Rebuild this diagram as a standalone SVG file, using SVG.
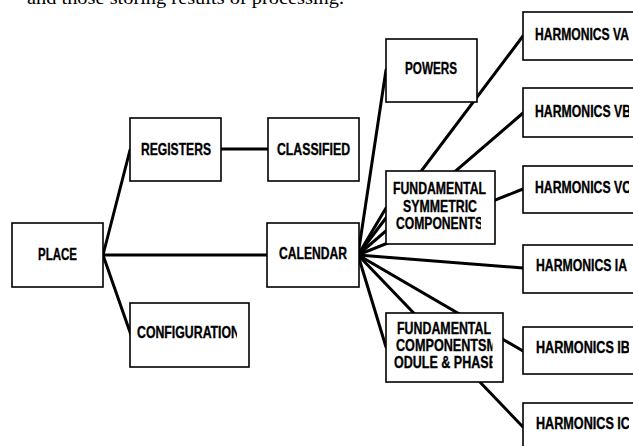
<svg xmlns="http://www.w3.org/2000/svg" width="633" height="446" viewBox="0 0 633 446">
<style>
.box{fill:#fff;stroke:#000;stroke-width:1.6}
.lbl{font-family:"Liberation Sans",Arial,sans-serif;font-weight:bold;font-size:16.5px;fill:#000;stroke:#000;stroke-width:0.35}
.con line{stroke:#000;stroke-width:3;stroke-linecap:round}
.cap{font-family:"Liberation Serif","Times New Roman",serif;font-size:18px;fill:#000}
</style>
<defs>
<clipPath id="cCfg"><rect x="130" y="300" width="107" height="70"/></clipPath>
<clipPath id="cFS"><rect x="386" y="171" width="95" height="73"/></clipPath>
<clipPath id="cFC"><rect x="386" y="313" width="106.5" height="69"/></clipPath>
<clipPath id="cH"><rect x="523" y="0" width="106" height="446"/></clipPath>
</defs>
<rect width="633" height="446" fill="#fff"/>
<text class="cap" x="27" y="4" textLength="317" lengthAdjust="spacingAndGlyphs">and those storing results of processing.</text>
<g id="connectors" class="con">
<line x1="103" y1="255" x2="130" y2="150"/>
<line x1="103" y1="255" x2="267" y2="255"/>
<line x1="103" y1="255" x2="131" y2="335"/>
<line x1="221" y1="149" x2="268" y2="149"/>
<line x1="358" y1="255" x2="386" y2="70"/>
<line x1="358" y1="255" x2="386" y2="208"/>
<line x1="358" y1="255" x2="386" y2="347"/>
<line x1="358" y1="255" x2="523" y2="36"/>
<line x1="358" y1="255" x2="523" y2="113"/>
<line x1="358" y1="255" x2="523" y2="189"/>
<line x1="358" y1="255" x2="523" y2="268"/>
<line x1="358" y1="255" x2="523" y2="351"/>
<line x1="358" y1="255" x2="523" y2="427"/>
</g>
<g id="place"><rect class="box" x="12" y="223" width="91" height="64"/><text class="lbl" x="38" y="260" textLength="39" lengthAdjust="spacingAndGlyphs">PLACE</text></g>
<g id="registers"><rect class="box" x="130" y="118" width="91" height="63"/><text class="lbl" x="141" y="155" textLength="70" lengthAdjust="spacingAndGlyphs">REGISTERS</text></g>
<g id="classified"><rect class="box" x="268" y="118" width="91" height="63"/><text class="lbl" x="277" y="155" textLength="73" lengthAdjust="spacingAndGlyphs">CLASSIFIED</text></g>
<g id="configuration"><rect class="box" x="130" y="303" width="119" height="64"/><text class="lbl" x="137" y="338" textLength="103" lengthAdjust="spacingAndGlyphs" clip-path="url(#cCfg)">CONFIGURATION</text></g>
<g id="calendar"><rect class="box" x="267" y="223" width="92" height="64"/><text class="lbl" x="279" y="259" textLength="68" lengthAdjust="spacingAndGlyphs">CALENDAR</text></g>
<g id="powers"><rect class="box" x="386" y="39" width="91" height="63"/><text class="lbl" x="405" y="74" textLength="52" lengthAdjust="spacingAndGlyphs">POWERS</text></g>
<g id="fund-symmetric"><rect class="box" x="386" y="171" width="109" height="73"/>
<text class="lbl" x="393" y="194" textLength="93" lengthAdjust="spacingAndGlyphs">FUNDAMENTAL</text>
<text class="lbl" x="403" y="212" textLength="74" lengthAdjust="spacingAndGlyphs">SYMMETRIC</text>
<text class="lbl" x="396" y="229" textLength="87" lengthAdjust="spacingAndGlyphs" clip-path="url(#cFS)">COMPONENTS</text>
</g>
<g id="fund-components"><rect class="box" x="386" y="313" width="117" height="69"/>
<g clip-path="url(#cFC)">
<text class="lbl" x="397" y="334" textLength="94" lengthAdjust="spacingAndGlyphs">FUNDAMENTAL</text>
<text class="lbl" x="396" y="351" textLength="101" lengthAdjust="spacingAndGlyphs">COMPONENTSM</text>
<text class="lbl" x="394" y="368" textLength="103" lengthAdjust="spacingAndGlyphs">ODULE &amp; PHASE</text>
</g></g>
<g id="harm-va"><rect class="box" x="523" y="12" width="120" height="48"/><text class="lbl" x="535" y="40" textLength="94" lengthAdjust="spacingAndGlyphs" clip-path="url(#cH)">HARMONICS VA</text></g>
<g id="harm-vb"><rect class="box" x="523" y="88" width="120" height="49"/><text class="lbl" x="535" y="117" textLength="96" lengthAdjust="spacingAndGlyphs" clip-path="url(#cH)">HARMONICS VB</text></g>
<g id="harm-vc"><rect class="box" x="523" y="166" width="120" height="47"/><text class="lbl" x="535" y="193" textLength="96" lengthAdjust="spacingAndGlyphs" clip-path="url(#cH)">HARMONICS VC</text></g>
<g id="harm-ia"><rect class="box" x="523" y="245" width="120" height="48"/><text class="lbl" x="536" y="271" textLength="91" lengthAdjust="spacingAndGlyphs" clip-path="url(#cH)">HARMONICS IA</text></g>
<g id="harm-ib"><rect class="box" x="523" y="327" width="120" height="47"/><text class="lbl" x="536" y="353" textLength="94" lengthAdjust="spacingAndGlyphs" clip-path="url(#cH)">HARMONICS IB</text></g>
<g id="harm-ic"><rect class="box" x="523" y="403" width="120" height="48"/><text class="lbl" x="536" y="429" textLength="94" lengthAdjust="spacingAndGlyphs" clip-path="url(#cH)">HARMONICS IC</text></g>
</svg>
